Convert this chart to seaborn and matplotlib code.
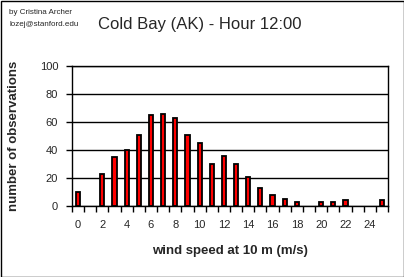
import matplotlib
matplotlib.use("Agg")
import matplotlib.pyplot as plt
import seaborn as sns
import pandas as pd
import numpy as np

speeds = list(range(26))
counts = [10, 0, 23, 35, 40, 51, 65, 66, 63, 51, 45, 30, 36, 30, 21, 13, 8, 5, 3, 0, 3, 3, 4, 0, 0, 4]
tick_labels = [str(v) for v in range(0, 25, 2)]
y_ticks = [0, 20, 40, 60, 80, 100]

sns.set_style("white")
plt.rcParams['font.family'] = ['Liberation Sans', 'DejaVu Sans']

df = pd.DataFrame({"speed": speeds, "count": counts})
df_nz = df[df["count"] > 0]

fig = plt.figure(figsize=(4.04, 2.77), dpi=100)
ax = fig.add_axes([72/404, 1-206/277, 316/404, 140/277])

sns.barplot(data=df_nz, x="speed", y="count", order=speeds, color="#ff0000",
            edgecolor="black", linewidth=1.3, width=0.34, saturation=1, ax=ax)

ax.set_xlim(-0.5, 25.5)
ax.set_ylim(0, 100)
ax.set_yticks(y_ticks)
ax.yaxis.grid(True, color="black", linewidth=1)
ax.set_axisbelow(True)
ax.set_xticks(range(0, 25, 2))
ax.set_xticklabels(tick_labels)
ax.set_xticks(np.arange(-0.5, 26, 1), minor=True)
ax.tick_params(axis="x", which="major", length=0, pad=10, labelsize=8)
ax.tick_params(axis="x", which="minor", length=4, width=1, direction="out", color="black", bottom=True)
ax.tick_params(axis="y", length=4, width=1, direction="out", color="black", left=True, labelsize=8, pad=6)
for s in ax.spines.values():
    s.set_visible(True)
    s.set_color("black")
    s.set_linewidth(1)

ax.set_xlabel("wind speed at 10 m (m/s)", fontsize=9.5, fontweight="bold", labelpad=11)
ax.set_ylabel("number of observations", fontsize=9.5, fontweight="bold", labelpad=14)

fig.text(200/404, 1-24/277, "Cold Bay (AK) - Hour 12:00", ha="center", va="center", fontsize=12)
fig.text(9/404, 1-12/277, "by Cristina Archer", ha="left", va="center", fontsize=5.8)
fig.text(9/404, 1-24/277, "lozej@stanford.edu", ha="left", va="center", fontsize=5.8)

fig.patches.append(plt.Rectangle((0.5/404, 0.5/277), 1-1/404, 1-1/277, transform=fig.transFigure,
                                 fill=False, edgecolor="black", linewidth=1))

fig.savefig("out.png", dpi=100)
